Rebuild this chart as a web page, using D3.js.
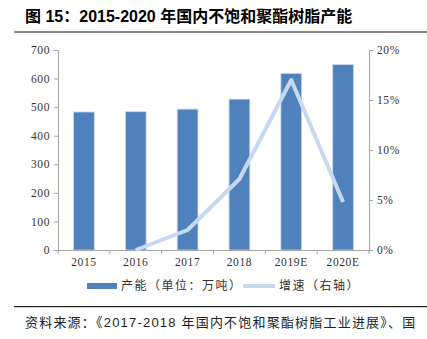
<!DOCTYPE html>
<html><head><meta charset="utf-8">
<script src="https://cdn.jsdelivr.net/npm/d3@7"></script>
<style>body{margin:0;background:#fff}svg{display:block}</style>
</head><body>
<svg id="c" width="427" height="339"></svg>
<script>
const categories = ["2015","2016","2017","2018","2019E","2020E"];
const capacity = [483, 484, 493, 528, 618, 649];
const growth = [null, 0.0, 0.02, 0.071, 0.17, 0.048];
const leftTicks = [0,100,200,300,400,500,600,700];
const rightTicks = [0,0.05,0.10,0.15,0.20];

const svg = d3.select("#c");
const cjk = "'Noto Sans CJK SC', sans-serif";
const serif = "'Liberation Serif','Times New Roman',serif";

svg.append("text").attr("x",25).attr("y",22).attr("font-family","'Liberation Sans','Noto Sans CJK SC',sans-serif")
  .attr("font-weight","bold").attr("font-size",16).attr("fill","#000")
  .text("图 15：2015-2020 年国内不饱和聚酯树脂产能");
svg.append("rect").attr("x",14).attr("y",31).attr("width",413).attr("height",2).attr("fill","#8c8c8c");

const x = d3.scaleBand().domain(categories).range([58,369]).paddingInner(0.6).paddingOuter(0.3);
const yL = d3.scaleLinear().domain([0,700]).range([250,50]);
const yR = d3.scaleLinear().domain([0,0.2]).range([250,50]);
const axisColor = "#a6a6a6";

// bars
svg.append("g").selectAll("rect").data(capacity).join("rect")
  .attr("x",(d,i)=>x(categories[i])).attr("width",x.bandwidth())
  .attr("y",d=>yL(d)).attr("height",d=>yL(0)-yL(d))
  .attr("fill","#4f81bd").attr("stroke","#c9d7ea").attr("stroke-width",0.8);

// left axis
const gL = svg.append("g").attr("transform","translate(58,0)")
  .call(d3.axisLeft(yL).tickValues(leftTicks).tickSize(4).tickPadding(4));
// right axis
const gR = svg.append("g").attr("transform","translate(369,0)")
  .call(d3.axisRight(yR).tickValues(rightTicks).tickSize(4).tickPadding(4).tickFormat(d3.format(".0%")));
// bottom axis
const gB = svg.append("g").attr("transform","translate(0,250)")
  .call(d3.axisBottom(x).tickSize(0).tickPadding(8));
gB.selectAll(".tickb").data(d3.range(categories.length+1)).join("line")
  .attr("x1",i=>58+i*(311/6)).attr("x2",i=>58+i*(311/6)).attr("y1",0).attr("y2",4).attr("stroke",axisColor);

[gL,gR,gB].forEach(g=>{
  g.select(".domain").attr("stroke",axisColor);
  g.selectAll(".tick line").attr("stroke",axisColor);
  g.selectAll("text").attr("font-family",serif).attr("font-size",11.5).attr("fill","#333").attr("letter-spacing",0.6);
});

// line
const line = d3.line().defined(d=>d!=null)
  .x((d,i)=>x(categories[i])+x.bandwidth()/2).y(d=>yR(d));
svg.append("path").datum(growth).attr("d",line).attr("fill","none")
  .attr("stroke","#c6d9f1").attr("stroke-width",4).attr("stroke-linejoin","round");

// legend
svg.append("rect").attr("x",87).attr("y",283).attr("width",30).attr("height",6).attr("fill","#4f81bd");
svg.append("text").attr("x",121).attr("y",290).attr("font-family",cjk).attr("font-size",12).attr("fill","#333")
  .attr("letter-spacing",1.5).text("产能（单位：万吨）");
svg.append("line").attr("x1",243).attr("x2",275).attr("y1",286).attr("y2",286).attr("stroke","#c6d9f1").attr("stroke-width",4);
svg.append("text").attr("x",279).attr("y",290).attr("font-family",cjk).attr("font-size",12).attr("fill","#333")
  .attr("letter-spacing",1.5).text("增速（右轴）");

// footer
svg.append("rect").attr("x",14).attr("y",306).attr("width",413).attr("height",1.2).attr("fill","#222");
svg.append("text").attr("x",25).attr("y",327).attr("font-family","'Liberation Sans','Noto Sans CJK SC',sans-serif")
  .attr("font-size",13).attr("fill","#222").attr("letter-spacing",1.2)
  .text("资料来源：《2017-2018 年国内不饱和聚酯树脂工业进展》、国");
</script>
</body></html>
